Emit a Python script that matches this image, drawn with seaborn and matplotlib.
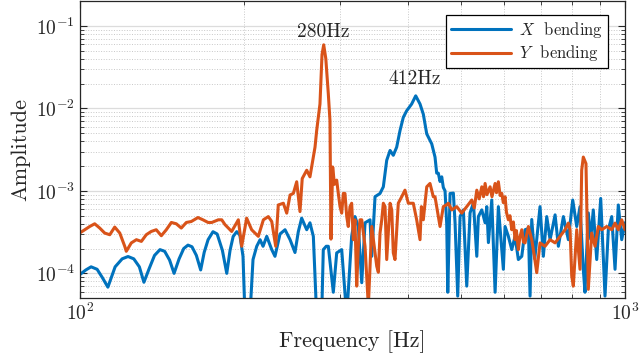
import numpy as np
import pandas as pd
import matplotlib
matplotlib.use("Agg")
import matplotlib.pyplot as plt
import matplotlib.ticker as mtick
import seaborn as sns

# X bending spectrum (frequency in Hz, amplitude)
x_freq = [100, 102.5, 104.8, 107.5, 110.0, 112.5, 116.0, 119.5, 122.5, 125.5,
          128.5, 131.0, 134.0, 137.0, 140.2, 143.0, 146.0, 148.8, 152.0, 155.0,
          157.8, 160.5, 163.5, 166.5, 169.0, 171.8, 175.4, 178.5, 182.5, 185.9,
          188.5, 191.0, 193.9, 196.5, 199.1, 200.8, 205.0, 207.7, 211.0, 214.0,
          216.7, 220.1, 224.8, 227.9, 232.8, 237.8, 242.9, 248.0, 251.5, 255.1,
          260.6, 264.2, 268.0, 271.8, 277.6, 279.5, 283.0, 285.5, 291.6, 295.8,
          302.1, 308.6, 315.1, 319.5, 324.1, 328.8, 333.4, 340.5, 343.0, 347.8,
          355.2, 360.2, 365.4, 370.6, 375.7, 381.1, 386.5, 391.9, 397.5, 406.0,
          413.0, 420.6, 426.5, 432.7, 441.9, 448.1, 451.3, 454.4, 457.7, 461.0,
          464.1, 467.5, 470.8, 472.9, 477.5, 484.2, 487.7, 493.2, 498.1, 505.1,
          512.4, 519.6, 527.0, 534.6, 538.2, 546.0, 553.7, 557.6, 561.5, 569.5,
          577.6, 585.6, 598.1, 602.4, 610.9, 619.7, 628.4, 637.2, 646.5, 655.5,
          664.8, 669.5, 674.3, 683.0, 698.3, 708.2, 718.4, 728.6, 744.2, 754.6,
          770.7, 787.1, 801.7, 815.4, 826.8, 838.4, 844.4, 856.3, 865.0, 874.5,
          887.3, 902.4, 918.9, 931.9, 945.4, 958.7, 972.0, 986.1, 1000]
x_amp = [9.7e-5, 1.1e-4, 1.2e-4, 1.12e-4, 8.8e-5, 6.8e-5, 1.2e-4, 1.5e-4, 1.6e-4, 1.5e-4,
         1.2e-4, 7.8e-5, 1.15e-4, 1.65e-4, 1.94e-4, 1.85e-4, 1.45e-4, 1.0e-4, 1.5e-4, 2.0e-4,
         2.2e-4, 2.1e-4, 1.65e-4, 1.1e-4, 1.8e-4, 2.56e-4, 3.2e-4, 3.0e-4, 1.9e-4, 1.0e-4,
         1.9e-4, 2.8e-4, 3.2e-4, 2.9e-4, 1.61e-4, 3e-5, 3e-5, 1.47e-4, 2.13e-4, 2.56e-4,
         2.13e-4, 2.81e-4, 1.94e-4, 1.61e-4, 3.0e-4, 3.38e-4, 2.56e-4, 1.79e-4, 3.2e-4, 4.67e-4,
         3.38e-4, 4.1e-4, 2.81e-4, 3e-5, 3e-5, 1.94e-4, 2.13e-4, 2.13e-4, 5.9e-5, 1.77e-4,
         1.94e-4, 3e-5, 2.81e-4, 4.88e-4, 3.7e-4, 7.7e-5, 4.1e-4, 4.46e-4, 1.61e-4, 8.5e-4,
         9.3e-4, 1.12e-3, 2.35e-3, 3.09e-3, 2.7e-3, 3.39e-3, 5.38e-3, 7.78e-3, 9.35e-3, 1.13e-2,
         1.42e-2, 1.13e-2, 8.5e-3, 4.91e-3, 3.72e-3, 2.57e-3, 1.64e-3, 1.64e-3, 1.3e-3, 1.48e-3,
         1.1e-3, 1.0e-3, 4.0e-4, 5.9e-5, 9.3e-4, 9.4e-4, 4.1e-4, 5.3e-5, 4.88e-4, 5.88e-4,
         7.0e-5, 5.41e-4, 7.13e-4, 1.61e-4, 4.88e-4, 5.88e-4, 4.1e-4, 6.44e-4, 2.36e-4, 7.75e-4,
         5.9e-5, 6.44e-4, 1.12e-4, 3.7e-4, 2.81e-4, 1.94e-4, 2.81e-4, 1.47e-4, 1.61e-4, 3.38e-4,
         3.5e-4, 5.3e-5, 4.5e-4, 1.5e-4, 6.44e-4, 1.61e-4, 4.88e-4, 2.56e-4, 5.12e-4, 2.13e-4,
         4.88e-4, 2.56e-4, 7.75e-4, 3.7e-4, 6.44e-4, 1.12e-4, 5.9e-5, 5.41e-4, 2.6e-4, 5.88e-4,
         1.47e-4, 8.1e-4, 5.3e-5, 3.38e-4, 4.88e-4, 1.12e-4, 6.75e-4, 2.56e-4, 4.1e-4]

# Y bending spectrum
y_freq = [100, 102.0, 104.2, 106.4, 108.7, 111.0, 113.4, 115.8, 118.3, 120.8,
          121.6, 124.2, 126.9, 129.6, 132.3, 135.1, 138.0, 141.0, 144.0, 147.1,
          150.2, 153.4, 156.7, 160.0, 164.6, 168.1, 171.8, 174.5, 179.4, 182.0,
          184.5, 188.5, 189.8, 195.2, 198.0, 202.2, 206.5, 212.4, 217.0, 221.6,
          224.8, 228.6, 231.1, 236.1, 239.5, 242.9, 246.3, 249.8, 253.3, 255.7,
          260.6, 264.2, 266.1, 269.9, 271.8, 275.6, 278.0, 280.0, 282.5, 285.5,
          287.5, 288.7, 290.8, 293.0, 295.8, 297.8, 300.0, 302.1, 304.2, 306.3,
          308.6, 310.6, 312.9, 315.1, 317.3, 319.5, 321.9, 324.1, 326.4, 328.8,
          333.4, 338.1, 343.0, 347.8, 350.3, 352.7, 355.2, 357.8, 360.2, 362.8,
          365.4, 367.9, 370.6, 373.2, 375.7, 378.4, 383.7, 389.3, 394.7, 400.3,
          408.8, 414.7, 420.6, 423.0, 426.5, 432.7, 438.7, 444.9, 448.1, 454.4,
          457.7, 464.1, 470.8, 474.1, 480.9, 491.2, 501.7, 512.4, 523.4, 529.0,
          534.6, 540.0, 546.0, 550.0, 553.7, 558.0, 565.5, 570.0, 577.6, 581.0,
          585.6, 590.0, 594.1, 598.0, 602.4, 606.0, 610.9, 615.0, 619.7, 624.0,
          628.4, 632.0, 637.2, 641.0, 646.5, 651.0, 655.5, 664.8, 674.3, 681.8,
          688.7, 698.3, 713.3, 728.6, 744.2, 760.0, 776.2, 787.1, 792.8, 798.4,
          803.8, 815.4, 826.8, 832.7, 838.4, 847.9, 852.6, 856.3, 868.6, 881.0,
          893.3, 906.2, 925.5, 945.4, 958.7, 972.0, 986.1, 1000]
y_amp = [3.1e-4, 3.38e-4, 3.7e-4, 3.99e-4, 3.54e-4, 3.08e-4, 2.94e-4, 3.64e-4, 3.08e-4, 2.13e-4,
         1.85e-4, 2.34e-4, 2.56e-4, 2.44e-4, 2.94e-4, 3.22e-4, 3.38e-4, 2.86e-4, 3.38e-4, 4.14e-4,
         3.99e-4, 3.54e-4, 4.14e-4, 4.25e-4, 4.75e-4, 4.46e-4, 4.14e-4, 4.14e-4, 4.46e-4, 4.46e-4,
         3.9e-4, 3.38e-4, 3.22e-4, 4.46e-4, 2.13e-4, 4.67e-4, 3.38e-4, 2.81e-4, 4.46e-4, 4.88e-4,
         4.25e-4, 2.13e-4, 6.75e-4, 7.08e-4, 5.37e-4, 8.91e-4, 9.33e-4, 1.29e-3, 5.61e-4, 1.41e-3,
         1.78e-3, 1.48e-3, 1.95e-3, 3.39e-3, 5.38e-3, 1.13e-2, 4.5e-2, 5.9e-2, 4.0e-2, 1.5e-2,
         7.1e-3, 2.6e-4, 1.95e-3, 1.2e-3, 1.35e-3, 9.3e-4, 6.44e-4, 5.37e-4, 9.33e-4, 9.3e-4,
         4.88e-4, 3.7e-4, 6.44e-4, 7.08e-4, 2.56e-4, 4.46e-4, 7.0e-5, 2.13e-4, 4.46e-4, 4.46e-4,
         2.13e-4, 4e-5, 3.7e-4, 1.77e-4, 1.22e-4, 1.03e-4, 3.08e-4, 4.46e-4, 7.08e-4, 6.44e-4,
         1.47e-4, 3.08e-4, 7.08e-4, 5.88e-4, 1.77e-4, 1.47e-4, 7.08e-4, 8.49e-4, 1.02e-3, 7.08e-4,
         7.08e-4, 4.46e-4, 2.56e-4, 6.44e-4, 4.46e-4, 1.12e-3, 1.23e-3, 8.49e-4, 8.49e-4, 4.88e-4,
         3.7e-4, 6.44e-4, 6.8e-4, 7.08e-4, 5.88e-4, 6.44e-4, 5.37e-4, 6.44e-4, 7.75e-4, 6.2e-4,
         1.02e-3, 8.0e-4, 1.12e-3, 8.5e-4, 1.23e-3, 9.0e-4, 1.12e-3, 8.5e-4, 1.23e-3, 9.5e-4,
         1.29e-3, 8.8e-4, 9.33e-4, 7.2e-4, 8.49e-4, 5.5e-4, 4.46e-4, 5.0e-4, 3.38e-4, 4.2e-4,
         2.56e-4, 3.3e-4, 1.94e-4, 2.7e-4, 3.38e-4, 2.4e-4, 2.34e-4, 3.7e-4, 2.56e-4, 1.61e-4,
         1.02e-4, 2.34e-4, 2.13e-4, 2.56e-4, 2.34e-4, 2.81e-4, 3.38e-4, 4.07e-4, 3.38e-4, 9.3e-5,
         7.0e-5, 3.38e-4, 1.12e-4, 1.78e-3, 2.57e-3, 2.14e-3, 3.38e-4, 6.4e-5, 3.08e-4, 2.13e-4,
         3.7e-4, 3.38e-4, 3.7e-4, 3.38e-4, 4.07e-4, 3.38e-4, 4.46e-4, 3.38e-4]

peak_labels = ["280Hz", "412Hz"]
peak_freq = [280, 412]
peak_amp = [0.066, 0.0175]

sns.set_theme(style="ticks")
plt.rcParams["font.family"] = "serif"
plt.rcParams["font.serif"] = ["cmr10", "DejaVu Serif"]
plt.rcParams["mathtext.fontset"] = "cm"
plt.rcParams["axes.formatter.use_mathtext"] = True

fig = plt.figure(figsize=(6.4, 3.61), dpi=100)
ax = fig.add_axes([0.125, 0.174, 0.8516, 0.823])
ax.set_xscale("log")
ax.set_yscale("log")

sns.lineplot(x=x_freq, y=x_amp, ax=ax, color="#0072BD", lw=2.2,
             label=r"$X$  bending", estimator=None, sort=False)
sns.lineplot(x=y_freq, y=y_amp, ax=ax, color="#D95319", lw=2.2,
             label=r"$Y$  bending", estimator=None, sort=False)

for lab, f, a in zip(peak_labels, peak_freq, peak_amp):
    ax.text(f, a, lab, ha="center", va="bottom", fontsize=14)

ax.set_xlim(100, 1000)
ax.set_ylim(5e-5, 2e-1)
ax.xaxis.set_minor_formatter(mtick.NullFormatter())
ax.yaxis.set_minor_formatter(mtick.NullFormatter())
ax.set_xlabel("Frequency [Hz]", fontsize=16)
ax.set_ylabel("Amplitude", fontsize=16)
ax.tick_params(which="both", direction="in", top=True, right=True,
               labelsize=14, color="#262626")
ax.tick_params(which="major", length=5, width=0.8)
ax.tick_params(which="minor", length=3, width=0.6)
ax.grid(which="major", color="#dcdcdc", ls="-", lw=0.9)
ax.grid(which="minor", color="#c8c8c8", ls=":", lw=0.7)
ax.set_axisbelow(True)
for sp in ax.spines.values():
    sp.set_color("#262626")
    sp.set_linewidth(0.9)

leg = ax.legend(loc="upper right", bbox_to_anchor=(0.969, 0.953),
                borderaxespad=0, fontsize=12, handlelength=3.6,
                fancybox=False, framealpha=1, edgecolor="black",
                borderpad=0.3, labelspacing=0.2, handletextpad=0.5)
leg.get_frame().set_linewidth(0.9)

fig.savefig("out.png", dpi=100)
